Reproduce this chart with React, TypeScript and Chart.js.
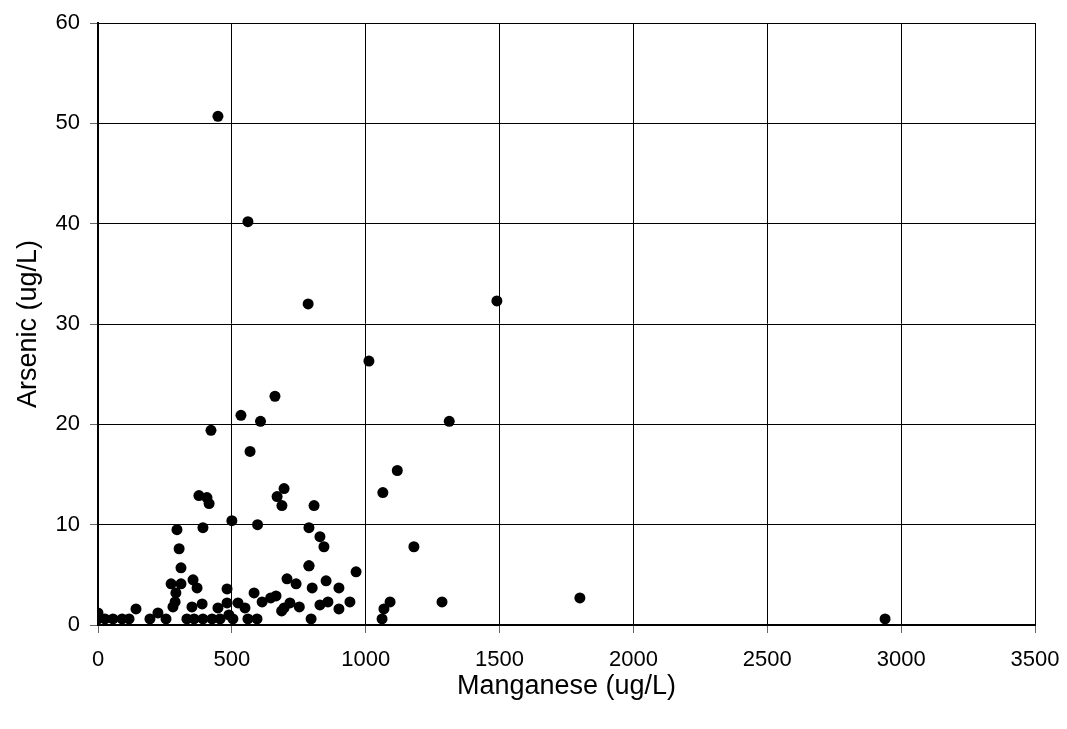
import React, { useEffect, useRef } from "react";
import { Chart, registerables } from "chart.js";

Chart.register(...registerables);

const manganese: number[] = [
  0, 0, 26, 56, 90, 116, 142, 194, 224, 254,
  273, 310, 291, 288, 280, 355, 370,
  332, 359, 392, 426, 456,
  351, 389, 448, 482, 482, 489, 504,
  523, 549, 560, 594, 583, 613, 645, 665, 686, 706,
  695, 717, 752, 740, 788, 796, 800, 829, 859, 852, 900, 900, 941, 964,
  1061, 1068, 1091, 1285, 1800, 2940,
  448, 560, 785, 1490, 1012, 661, 534, 607, 1312, 422, 568, 1118, 695, 1064,
  377, 407, 415, 669, 687, 807, 500, 596, 392, 295, 788, 829, 844, 1180, 303, 310, 788,
];

const arsenic: number[] = [
  1.2, 0.6, 0.6, 0.6, 0.6, 0.6, 1.6, 0.6, 1.2, 0.6,
  4.1, 4.1, 3.2, 2.3, 1.8, 4.5, 3.7,
  0.6, 0.6, 0.6, 0.6, 0.6,
  1.8, 2.1, 1.7, 3.6, 2.2, 1.0, 0.6,
  2.2, 1.7, 0.6, 0.6, 3.2, 2.3, 2.7, 2.9, 1.4, 4.6,
  1.7, 2.2, 1.8, 4.1, 5.9, 0.6, 3.7, 2.0, 2.3, 4.4, 3.7, 1.6, 2.3, 5.3,
  0.6, 1.6, 2.3, 2.3, 2.7, 0.6,
  50.7, 40.2, 32.0, 32.3, 26.3, 22.8, 20.9, 20.3, 20.3, 19.4, 17.3, 15.4, 13.6, 13.2,
  12.9, 12.7, 12.1, 12.8, 11.9, 11.9, 10.4, 10.0, 9.7, 9.5, 9.7, 8.8, 7.8, 7.8, 7.6, 5.7, 5.9,
];

const xTicks: number[] = [0, 500, 1000, 1500, 2000, 2500, 3000, 3500];
const yTicks: number[] = [0, 10, 20, 30, 40, 50, 60];
const xTitle = "Manganese (ug/L)";
const yTitle = "Arsenic (ug/L)";

export default function App() {
  const ref = useRef<HTMLCanvasElement | null>(null);

  useEffect(() => {
    if (!ref.current) return;
    const points = manganese.map((x, i) => ({ x, y: arsenic[i] }));
    const font = "'Liberation Sans', Arial, sans-serif";
    const chart = new Chart(ref.current, {
      type: "scatter",
      data: {
        datasets: [
          {
            data: points,
            backgroundColor: "#000",
            borderColor: "#000",
            borderWidth: 0,
            pointRadius: 5.5,
            pointHoverRadius: 5.5,
          },
        ],
      },
      options: {
        responsive: false,
        animation: false,
        plugins: { legend: { display: false }, tooltip: { enabled: false } },
        layout: { padding: { top: 23, right: 32, left: 0, bottom: 0 } },
        scales: {
          x: {
            type: "linear",
            min: 0,
            max: 3500,
            afterBuildTicks: (s: any) => {
              s.ticks = xTicks.map((v) => ({ value: v }));
            },
            afterFit: (s: any) => {
              s.height = 104;
              s.paddingRight = 0;
              s.paddingLeft = 0;
            },
            ticks: {
              color: "#000",
              font: { family: font, size: 22 },
              padding: 14,
              maxRotation: 0,
              autoSkip: false,
              callback: (v: any) => String(v),
            },
            grid: { color: "#000", lineWidth: 1, tickLength: 8, tickColor: "#666" },
            border: { color: "#000", width: 2 },
            title: {
              display: true,
              text: xTitle,
              color: "#000",
              font: { family: font, size: 27 },
              padding: { top: 0, bottom: 26 },
            },
          },
          y: {
            type: "linear",
            min: 0,
            max: 60,
            afterBuildTicks: (s: any) => {
              s.ticks = yTicks.map((v) => ({ value: v }));
            },
            afterFit: (s: any) => {
              s.width = 98;
              s.paddingTop = 0;
              s.paddingBottom = 0;
            },
            ticks: {
              color: "#000",
              font: { family: font, size: 22 },
              padding: 10,
              autoSkip: false,
              callback: (v: any) => String(v),
            },
            grid: { color: "#000", lineWidth: 1, tickLength: 8, tickColor: "#666" },
            border: { color: "#000", width: 2 },
            title: {
              display: true,
              text: yTitle,
              color: "#000",
              font: { family: font, size: 27 },
              padding: { top: 12, bottom: 0 },
            },
          },
        },
      },
    });
    return () => chart.destroy();
  }, []);

  return (
    <div style={{ position: "fixed", left: 0, top: 0, width: 1067, height: 729, background: "#fff" }}>
      <canvas ref={ref} width={1067} height={729} />
    </div>
  );
}
